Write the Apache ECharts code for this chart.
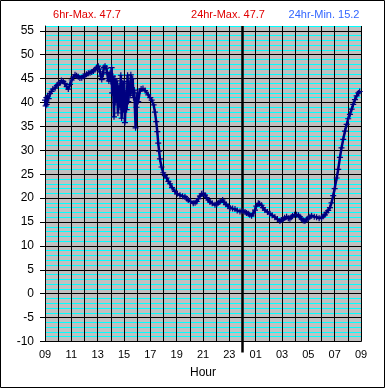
<!DOCTYPE html>
<html><head><meta charset="utf-8">
<script src="https://cdn.jsdelivr.net/npm/echarts@6/dist/echarts.min.js"></script>
<style>html,body{margin:0;padding:0;background:#fff}#c{width:385px;height:388px}</style>
</head><body><div id="c"></div>
<script>
// hours since 09:00
const hours = [0.0,0.05,0.1,0.13,0.2,0.28,0.38,0.5,0.6,0.76,0.9,1.0,1.14,1.25,1.39,1.5,1.65,1.77,1.9,2.03,2.15,2.28,2.4,2.53,2.65,2.79,2.9,3.04,3.15,3.29,3.42,3.55,3.68,3.8,3.92,4.05,4.12,4.18,4.25,4.31,4.4,4.47,4.56,4.65,4.72,4.78,4.85,4.94,
5.0,5.06,5.1,5.15,5.24,5.3,5.38,5.45,5.54,5.62,5.7,5.76,5.82,5.9,5.97,6.02,6.07,6.14,6.2,6.27,6.33,6.4,6.47,6.52,6.58,6.66,6.72,6.78,6.88,6.95,7.02,7.08,7.2,7.3,7.44,7.6,7.84,8.0,8.1,8.25,8.35,8.45,8.53,8.6,8.67,8.73,8.85,8.98,9.1,9.24,9.37,9.49,9.65,9.87,10.05,10.25,10.45,10.63,10.75,10.88,11.05,11.26,11.4,11.52,11.65,11.77,11.9,12.02,12.15,12.28,12.4,12.53,12.7,12.91,13.05,13.16,13.3,13.49,13.6,13.74,13.9,14.05,14.25,14.43,14.6,14.81,15.0,15.19,15.3,15.44,15.55,15.69,15.8,15.95,16.05,16.2,16.3,16.45,16.55,16.7,16.9,17.08,17.25,17.46,17.65,17.84,17.95,18.09,18.2,18.35,18.48,18.6,18.7,18.8,18.95,19.11,19.25,19.36,19.5,19.62,19.74,19.87,19.99,20.12,20.25,20.45,20.63,20.82,21.01,21.13,21.26,21.38,21.51,21.64,21.76,21.89,22.0,22.15,22.27,22.4,22.52,22.65,22.78,22.91,23.03,23.16,23.29,23.41,23.54,23.67,23.8,23.9];
const temps = [40.5,39.3,41.0,39.6,41.3,40.8,41.9,42.3,42.8,43.0,43.6,43.8,44.1,44.6,44.4,44.0,43.3,42.8,43.8,44.7,45.3,45.8,45.6,45.4,45.1,45.2,45.5,45.6,45.9,46.1,46.2,46.4,46.6,46.9,47.3,47.6,47.0,46.4,45.5,44.8,46.0,47.3,47.6,47.2,46.3,45.0,44.5,46.1,
44.4,47.3,42.0,45.5,37.0,45.0,40.0,44.5,37.8,43.5,39.0,45.7,36.7,44.0,38.5,44.4,35.8,42.0,38.5,45.7,40.2,44.0,41.5,45.8,42.3,45.0,41.0,42.6,34.7,39.0,42.0,40.2,42.4,42.8,42.9,42.5,41.6,41.0,40.5,39.5,38.0,36.0,33.9,31.5,29.8,28.2,26.5,25.3,24.7,24.2,23.5,23.0,22.2,21.4,20.9,20.6,20.4,20.3,19.9,19.6,19.3,18.9,19.0,19.3,19.9,20.4,20.9,21.0,20.6,20.1,19.6,19.2,18.9,18.6,18.7,19.0,19.3,19.6,19.1,18.7,18.3,17.9,17.8,17.7,17.4,17.2,17.3,17.1,16.9,16.7,16.5,16.3,16.7,17.5,18.3,18.9,18.8,18.5,18.0,17.5,17.1,16.7,16.4,16.0,15.6,15.2,15.4,15.5,15.9,16.1,15.8,15.7,16.0,16.3,16.5,16.5,16.4,16.1,15.6,15.3,15.2,15.5,15.8,16.1,16.3,16.1,16.0,15.8,15.9,16.2,16.5,17.0,17.4,18.0,19.0,20.5,22.0,24.2,26.0,28.5,30.5,32.3,34.0,35.4,36.6,37.5,38.6,39.6,40.6,41.4,42.0,42.3];
const yTicks = [-10,-5,0,5,10,15,20,25,30,35,40,45,50,55];
const xTickLabels = ['09','11','13','15','17','19','21','23','01','03','05','07','09'];
const midnightHour = [15];
const headerTexts = ['6hr-Max. 47.7','24hr-Max. 47.7','24hr-Min. 15.2'];

const font = '"Liberation Sans", Arial, sans-serif';
const chart = echarts.init(document.getElementById('c'), null, {renderer:'canvas'});
const data = hours.map((h,i)=>[h,temps[i]]);
chart.setOption({
  animation:false,
  backgroundColor:'#ffffff',
  grid:{left:45,right:24,top:26,bottom:46.5,show:true,backgroundColor:'#c0c0c0',borderWidth:0},
  graphic:[
    {type:'rect',shape:{x:0.5,y:0.5,width:384,height:387},style:{fill:'none',stroke:'#000',lineWidth:1},z:100},
    {type:'text',x:87,y:15,style:{text:headerTexts[0],fill:'#e00000',font:'11px '+font,align:'center',verticalAlign:'middle'}},
    {type:'text',x:228,y:15,style:{text:headerTexts[1],fill:'#e00000',font:'11px '+font,align:'center',verticalAlign:'middle'}},
    {type:'text',x:324,y:15,style:{text:headerTexts[2],fill:'#3366ff',font:'11px '+font,align:'center',verticalAlign:'middle'}}
  ],
  xAxis:[
    {type:'value',min:0,max:24,interval:2,z:1,
     axisLine:{show:true,lineStyle:{color:'#000',width:1}},
     axisTick:{show:true,length:4,lineStyle:{color:'#000'}},
     axisLabel:{color:'#000',fontSize:11,fontFamily:font,margin:8,formatter:(v)=>xTickLabels[Math.round(v/2)]},
     splitLine:{show:true,lineStyle:{color:'#000',width:1}},
     name:'Hour',nameLocation:'middle',nameGap:25,nameTextStyle:{color:'#000',fontSize:12,fontFamily:font}},
    {type:'value',min:0,max:24,interval:1,z:1,position:'bottom',
     axisLine:{show:false},axisTick:{show:false},axisLabel:{show:false},
     splitLine:{show:true,lineStyle:{color:'#000',width:1}}},
    {type:'value',min:0,max:24,z:3,position:'bottom',
     axisLine:{show:false},
     axisTick:{show:true,length:11,customValues:midnightHour,lineStyle:{color:'#000',width:2.5}},
     axisLabel:{show:false,customValues:midnightHour},
     splitLine:{show:true,lineStyle:{color:'#000',width:2.5}}}
  ],
  yAxis:[
    {type:'value',min:-10,max:56,interval:5,z:1,
     axisLine:{show:true,lineStyle:{color:'#000',width:1}},
     axisTick:{show:true,length:5,customValues:yTicks,lineStyle:{color:'#000'}},
     axisLabel:{color:'#000',fontSize:12,fontFamily:font,margin:11,customValues:yTicks},
     splitLine:{show:true,lineStyle:{color:'#000',width:1}}},
    {type:'value',min:-10,max:56,interval:1,z:0,position:'left',
     axisLine:{show:false},axisTick:{show:false},axisLabel:{show:false},
     splitLine:{show:true,lineStyle:{color:'#00ffff',width:1}}}
  ],
  series:[{
    type:'line',xAxisIndex:0,yAxisIndex:0,data:data,z:5,
    symbol:'path://M2,0H3V5H2ZM0,2H5V3H0Z',symbolSize:6,showAllSymbol:true,
    itemStyle:{color:'#000080'},lineStyle:{color:'#000080',width:2.5}
  }]
});
</script></body></html>
